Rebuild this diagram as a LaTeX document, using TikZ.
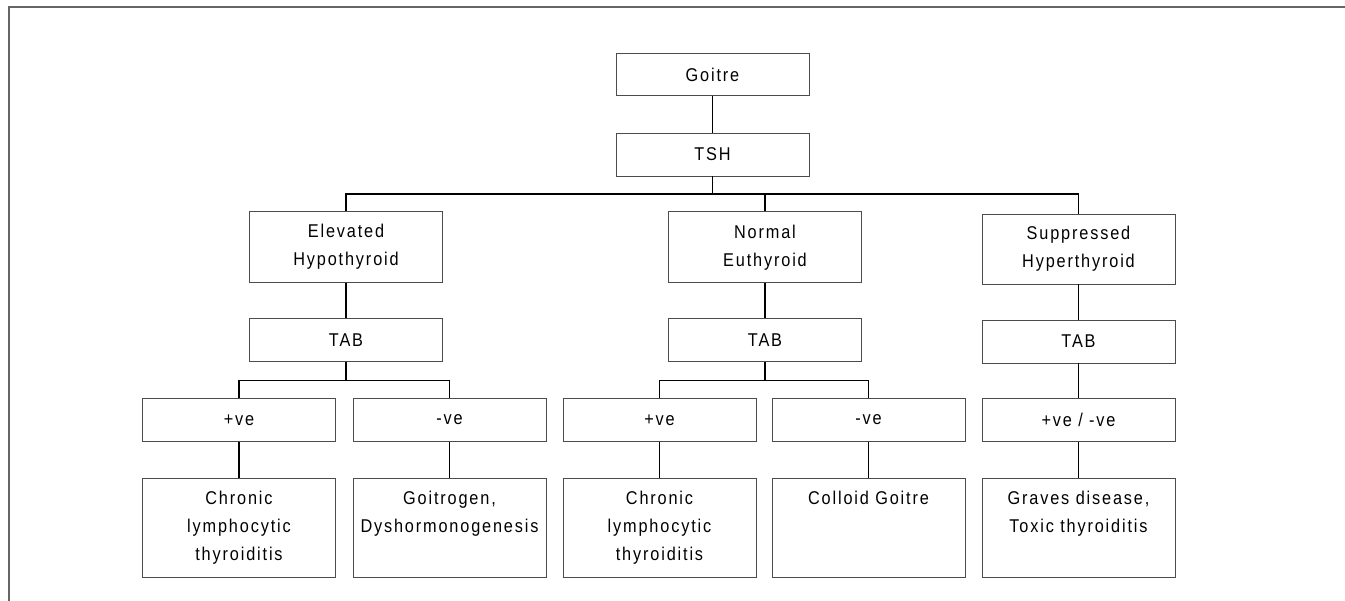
\documentclass[tikz,border=0pt]{standalone}
\usepackage{fontspec}
\setmainfont{Liberation Sans}[FakeStretch=0.88,LetterSpace=10]
\begin{document}
\begin{tikzpicture}[x=1pt,y=-1pt,
  box/.style={draw=black!70,line width=0.9pt,minimum width=193pt,inner sep=0pt,
    align=center,font=\fontsize{18.5}{28}\selectfont},
  small/.style={box,minimum height=43pt},
  mid/.style={box,minimum height=71pt},
  leaf/.style={draw=black!70,line width=0.9pt,minimum width=193pt,minimum height=99pt,inner sep=0pt},
  leaftext/.style={anchor=north,inner sep=0pt,align=center,font=\fontsize{18.5}{28}\selectfont},
  link/.style={draw=black,line width=1.2pt}]
\useasboundingbox (0,0) rectangle (1345,601);
\draw[black!60,line width=2pt] (9,601) -- (9,7) -- (1345,7);
% top
\node[small,minimum height=42pt] (goitre) at (712.5,74.7) {Goitre};
\node[small] (tsh) at (712.5,154.5) {TSH};
% TSH results
\node[mid] (elev) at (346,247) {Elevated\\Hypothyroid};
\node[mid] (norm) at (765,247.3) {Normal\\Euthyroid};
\node[mid,minimum height=70pt] (supp) at (1078.5,249) {Suppressed\\Hyperthyroid};
% TAB
\node[small] (tab1) at (346,340) {TAB};
\node[small] (tab2) at (765,340) {TAB};
\node[small] (tab3) at (1078.5,341.5) {TAB};
% results
\node[small] (p1) at (239,420) {+ve};
\node[small] (n1) at (449.5,420) {-ve};
\node[small] (p2) at (659.5,420) {+ve};
\node[small] (n2) at (868.5,420) {-ve};
\node[small] (pn3) at (1078.5,420) {+ve / -ve};
% leaves
\node[leaf] (l1) at (239,527.5) {};
\node[leaf] (l2) at (449.5,527.5) {};
\node[leaf] (l3) at (659.5,527.5) {};
\node[leaf] (l4) at (868.5,527.5) {};
\node[leaf] (l5) at (1078.5,527.5) {};
\node[leaftext] (t1) at ([yshift=-13pt]l1.north) {Chronic\\lymphocytic\\thyroiditis};
\node[leaftext] (t2) at ([yshift=-13pt]l2.north) {Goitrogen,\\Dyshormonogenesis};
\node[leaftext] (t3) at ([yshift=-13pt]l3.north) {Chronic\\lymphocytic\\thyroiditis};
\node[leaftext] (t4) at ([yshift=-13pt]l4.north) {Colloid Goitre};
\node[leaftext] (t5) at ([yshift=-13pt]l5.north) {Graves disease,\\Toxic thyroiditis};
% connectors
\coordinate (bus) at (0,194);
\coordinate (bus2) at (0,380.6);
\draw[link] (goitre.south) -- (tsh.north);
\draw[link] (tsh.south) -- (tsh.south |- bus);
\draw[link] (elev.north) -- (elev.north |- bus) -- (supp.north |- bus) -- (supp.north);
\draw[link] (norm.north) -- (norm.north |- bus);
\draw[link] (elev.south) -- (tab1.north);
\draw[link] (norm.south) -- (tab2.north);
\draw[link] (supp.south) -- (tab3.north);
\draw[link] (tab1.south) -- (tab1.south |- bus2);
\draw[link] (p1.north) -- (p1.north |- bus2) -- (n1.north |- bus2) -- (n1.north);
\draw[link] (tab2.south) -- (tab2.south |- bus2);
\draw[link] (p2.north) -- (p2.north |- bus2) -- (n2.north |- bus2) -- (n2.north);
\draw[link] (tab3.south) -- (pn3.north);
\draw[link] (p1.south) -- (l1.north);
\draw[link] (n1.south) -- (l2.north);
\draw[link] (p2.south) -- (l3.north);
\draw[link] (n2.south) -- (l4.north);
\draw[link] (pn3.south) -- (l5.north);
\end{tikzpicture}
\end{document}
